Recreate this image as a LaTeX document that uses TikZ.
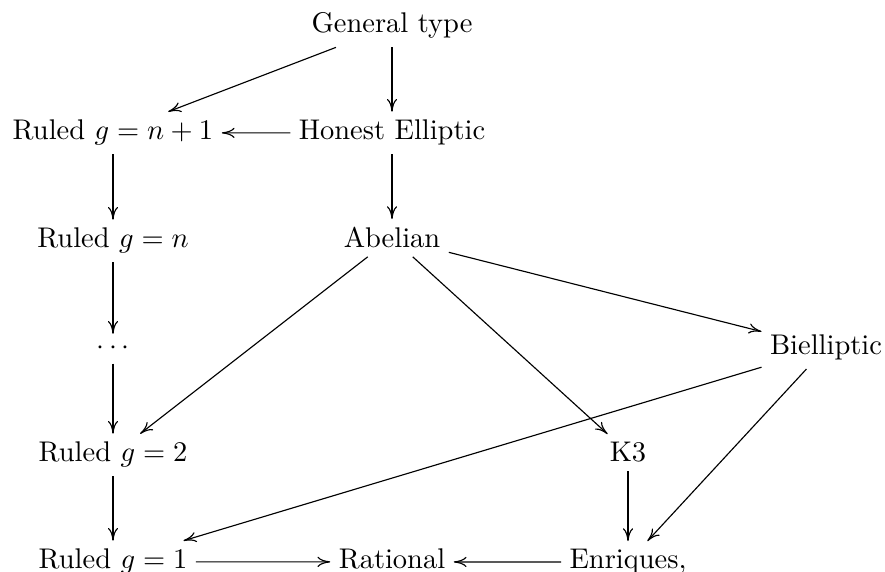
\documentclass[tikz,border=0pt]{standalone}
\usetikzlibrary{arrows.meta}
\begin{document}
\begin{tikzpicture}[x=0.3513pt,y=-0.3513pt,
  obj/.style={anchor=base,inner sep=3pt,outer sep=0pt},
  arr/.style={-{To[length=4.5pt,width=3.6pt]},line width=0.4pt}]
\clip (0,0) rectangle (885,572);
\node[obj] (gt)  at (392,33)  {General type};
\node[obj] (rn1) at (113,140) {Ruled $g=n+1$};
\node[obj] (he)  at (392,140) {Honest Elliptic};
\node[obj] (rn)  at (113,248) {Ruled $g=n$};
\node[obj] (ab)  at (392,248) {Abelian};
\node[obj] (dots) at (113,355) {$\cdots$};
\node[obj] (bi)  at (826,355) {Bielliptic};
\node[obj] (r2)  at (113,462) {Ruled $g=2$};
\node[obj] (k3)  at (628,462) {K3};
\node[obj] (r1)  at (113,569) {Ruled $g=1$};
\node[obj,text depth=1.94pt] (rat) at (392,569) {Rational};
\node[obj] (enr) at (628,569) {Enriques,};
\draw[arr] (gt) -- (rn1);
\draw[arr] (gt) -- (he);
\draw[arr] (he) -- (rn1);
\draw[arr] (rn1) -- (rn);
\draw[arr] (he) -- (ab);
\draw[arr] (rn) -- (dots);
\draw[arr] (dots) -- (r2);
\draw[arr] (ab) -- (r2);
\draw[arr] (ab) -- (k3);
\draw[arr] (ab) -- (bi);
\draw[arr] (bi) -- (r1);
\draw[arr] (bi) -- (enr);
\draw[arr] (k3) -- (enr);
\draw[arr] (r2) -- (r1);
\draw[arr] (r1) -- (rat);
\draw[arr] (enr) -- (rat);
\end{tikzpicture}
\end{document}
